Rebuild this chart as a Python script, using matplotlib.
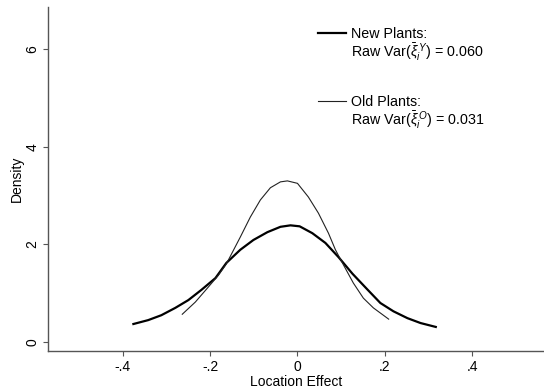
import matplotlib.pyplot as plt
from matplotlib.lines import Line2D

plt.rcParams['font.family'] = ['Liberation Sans', 'DejaVu Sans']
plt.rcParams['mathtext.fontset'] = 'custom'
plt.rcParams['mathtext.rm'] = 'Liberation Sans'
plt.rcParams['mathtext.it'] = 'Liberation Sans:italic'

# density of location effect, new plants
new_x = [-0.376, -0.342, -0.312, -0.280, -0.250, -0.220, -0.188, -0.163,
         -0.131, -0.101, -0.069, -0.039, -0.016, 0.005, 0.034, 0.064,
         0.094, 0.126, 0.161, 0.190, 0.220, 0.252, 0.282, 0.317]
new_y = [0.37, 0.45, 0.55, 0.70, 0.86, 1.07, 1.31, 1.62,
         1.89, 2.09, 2.25, 2.36, 2.39, 2.37, 2.23, 2.03,
         1.74, 1.40, 1.07, 0.80, 0.63, 0.49, 0.39, 0.31]

# old plants
old_x = [-0.264, -0.234, -0.204, -0.181, -0.163, -0.131, -0.108, -0.085,
         -0.062, -0.039, -0.023, 0.000, 0.025, 0.048, 0.071, 0.087,
         0.103, 0.128, 0.151, 0.174, 0.209]
old_y = [0.57, 0.82, 1.13, 1.37, 1.60, 2.15, 2.56, 2.91,
         3.16, 3.28, 3.30, 3.25, 2.97, 2.64, 2.23, 1.89,
         1.62, 1.21, 0.90, 0.70, 0.47]

xticks = [-0.4, -0.2, 0, 0.2, 0.4]
xtick_labels = ['-.4', '-.2', '0', '.2', '.4']
yticks = [0, 2, 4, 6]

fs = 10

fig = plt.figure(figsize=(5.44, 3.89), dpi=100)
ax = fig.add_axes([0.088, 0.098, 0.912, 0.884])

ax.plot(new_x, new_y, color='black', lw=1.6, solid_joinstyle='round')
ax.plot(old_x, old_y, color='#222222', lw=0.8, solid_joinstyle='round')

ax.set_xlim(-0.572, 0.565)
ax.set_ylim(-0.18, 6.86)
ax.set_xticks(xticks)
ax.set_xticklabels(xtick_labels)
ax.set_yticks(yticks)
ax.tick_params(labelsize=fs, length=3.6, color='#555555')
ax.tick_params(axis='x', pad=3)
ax.tick_params(axis='y', pad=2.5)
for lab in ax.get_yticklabels():
    lab.set_rotation(90)
    lab.set_rotation_mode('default')
    lab.set_ha('right')
    lab.set_va('center')
ax.set_xlabel('Location Effect', fontsize=fs, labelpad=0.5)
ax.set_ylabel('Density', fontsize=fs, labelpad=1)

for s in ['top', 'right']:
    ax.spines[s].set_visible(False)
for s in ['left', 'bottom']:
    ax.spines[s].set_color('#555555')
    ax.spines[s].set_linewidth(1.0)

blank = Line2D([], [], color='none')
leg_kw = dict(loc='upper left', frameon=False, fontsize=fs + 0.3,
              handlelength=2.0, handletextpad=0.35, labelspacing=0.0,
              borderpad=0, borderaxespad=0)
leg1 = ax.legend([Line2D([], [], color='black', lw=1.6), blank],
                 ['New Plants:', r'Raw Var($\bar{\xi}_i^{\,Y}$) = 0.060'],
                 bbox_to_anchor=(0.544, 0.942), **leg_kw)
ax.add_artist(leg1)
ax.legend([Line2D([], [], color='#222222', lw=0.8), blank],
          ['Old Plants:', r'Raw Var($\bar{\xi}_i^{\,O}$) = 0.031'],
          bbox_to_anchor=(0.544, 0.744), **leg_kw)

fig.savefig('out.png', dpi=100)
